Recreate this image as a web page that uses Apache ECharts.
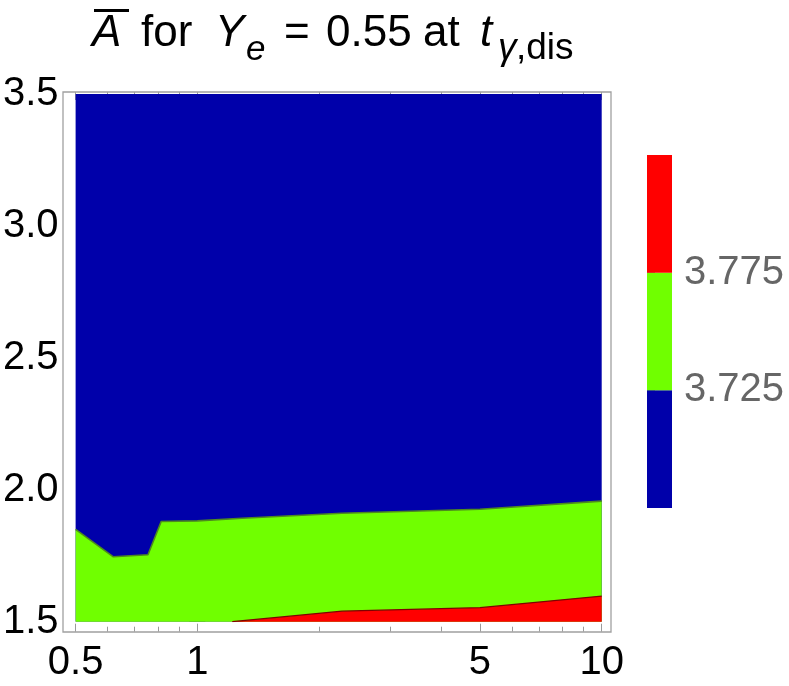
<!DOCTYPE html>
<html><head><meta charset="utf-8">
<script src="https://cdn.jsdelivr.net/npm/echarts@6/dist/echarts.min.js"></script>
<style>html,body{margin:0;padding:0;background:#fff}#c{width:789px;height:686px}</style>
</head><body><div id="c"></div>
<script>
// ---- data ----
const xRange = [0.5, 10];
const yRange = [1.5, 3.5];
const xMajorTicks = [0.5, 1, 5, 10];
const xMinorTicks = [0.6, 0.7, 0.8, 0.9, 2, 3, 4, 6, 7, 8, 9];
// boundary between level < 3.725 (blue) and 3.725..3.775 (green)
const blueGreenX = [0.5, 0.62, 0.755, 0.814, 1.0, 1.29, 2.28, 5.0, 10.0];
const blueGreenY = [1.850, 1.746, 1.754, 1.880, 1.882, 1.892, 1.911, 1.926, 1.957];
// boundary between green and level > 3.775 (red)
const greenRedX = [1.22, 2.28, 5.0, 10.0];
const greenRedY = [1.500, 1.540, 1.553, 1.597];
const contourLevels = [3.725, 3.775];
const colorbarRange = [3.675, 3.825];
// title pieces: [text, style key]
const titlePieces = [
  ['A', 'i'], ['for', 'm'], ['Y', 'i'], ['e', 'si'], ['=', 'm'], ['0.55', 'm'],
  ['at', 'm'], ['t', 'i'], ['γ', 'ti'], [',dis', 'tm']
];

// ---- styles / layout ----
const FONT = "'Liberation Sans', Arial, sans-serif";
const BLUE = '#0000AA', GREEN = '#70FF00', RED = '#FF0000';
const bandColors = [BLUE, GREEN, RED];
const TICK = '#9a9a9a';
const titleX = [92, 141, 215, 246, 284, 326, 423, 480, 498, 516];
const titleStyle = {
  m:  {fontSize: 44, fontStyle: 'normal', base: 49},
  i:  {fontSize: 44, fontStyle: 'italic', base: 49},
  si: {fontSize: 35, fontStyle: 'italic', base: 62},
  ti: {fontSize: 37, fontStyle: 'italic', base: 62},
  tm: {fontSize: 37, fontStyle: 'normal', base: 62}
};

const lx = v => Math.log10(v);
const pairs = (xs, ys) => xs.map((x, i) => [lx(x), ys[i]]);
const fmtX = v => { const r = Math.pow(10, v); return String(Math.round(r * 10) / 10); };

const bounds = [colorbarRange[0], ...contourLevels, colorbarRange[1]];
const bandData = bandColors.map((c, i) => [0, bounds[i], bounds[i + 1], i]);

const titleGraphics = titlePieces.map((p, k) => {
  const st = titleStyle[p[1]];
  return {
    type: 'text', z: 100, silent: true, x: titleX[k], y: st.base - 0.3465 * st.fontSize,
    style: {text: p[0], font: st.fontStyle + ' normal ' + st.fontSize + 'px ' + FONT, fill: '#000', align: 'left', verticalAlign: 'middle'}
  };
});

const chart = echarts.init(document.getElementById('c'), null, {renderer: 'canvas'});

function xAxisDef(pos, offset, ticks, len, labels) {
  return {
    type: 'value', gridIndex: 0, position: pos, offset: offset,
    min: lx(xRange[0]), max: lx(xRange[1]),
    axisLine: {show: false}, splitLine: {show: false},
    axisTick: {show: true, inside: true, length: len, customValues: ticks.map(lx), lineStyle: {color: TICK, width: 1}},
    axisLabel: labels ? {show: true, customValues: xMajorTicks.map(lx), formatter: fmtX, fontSize: 40, fontFamily: FONT, color: '#000', margin: 11} : {show: false}
  };
}
function yAxisDef(pos, labels) {
  return {
    type: 'value', gridIndex: 0, position: pos, offset: 9,
    min: yRange[0], max: yRange[1], interval: 0.5,
    axisLine: {show: false}, splitLine: {show: false},
    axisTick: {show: true, inside: true, length: 8, lineStyle: {color: TICK, width: 1}},
    minorTick: {show: true, splitNumber: 5, length: 5, lineStyle: {color: TICK, width: 1}},
    axisLabel: labels ? {show: true, formatter: v => v.toFixed(1), fontSize: 40, fontFamily: FONT, color: '#000', margin: 8} : {show: false}
  };
}

const option = {
  animation: false,
  backgroundColor: '#fff',
  graphic: [
    {type: 'rect', z: 100, silent: true, shape: {x: 63, y: 92, width: 548, height: 540}, style: {fill: 'none', stroke: '#a0a0a0', lineWidth: 1.3}},
    {type: 'rect', z: 100, silent: true, shape: {x: 94, y: 9, width: 35, height: 3}, style: {fill: '#000'}}
  ].concat(titleGraphics),
  grid: [
    {left: 72.3, top: 94, width: 529.4, height: 527.7},
    {left: 647, top: 155, width: 25, height: 353}
  ],
  xAxis: [
    xAxisDef('bottom', 10, xMajorTicks, 8, true),
    xAxisDef('bottom', 10, xMinorTicks, 5, false),
    xAxisDef('top', 2, xMajorTicks, 8, false),
    xAxisDef('top', 2, xMinorTicks, 5, false),
    {type: 'value', gridIndex: 1, min: 0, max: 1, show: false}
  ],
  yAxis: [
    yAxisDef('left', true),
    yAxisDef('right', false),
    {
      type: 'value', gridIndex: 1, position: 'right', min: colorbarRange[0], max: colorbarRange[1],
      axisLine: {show: false}, splitLine: {show: false},
      axisTick: {show: true, inside: false, length: 8, customValues: contourLevels, lineStyle: {color: TICK, width: 1}},
      axisLabel: {show: true, customValues: contourLevels, formatter: v => v.toFixed(3), fontSize: 40, fontFamily: FONT, color: '#666', margin: 12}
    }
  ],
  series: [
    {
      type: 'line', xAxisIndex: 0, yAxisIndex: 0, symbol: 'none', silent: true,
      data: [[lx(xRange[0]), yRange[1]], [lx(xRange[1]), yRange[1]]],
      lineStyle: {width: 0, opacity: 0}, areaStyle: {color: BLUE, opacity: 1, origin: 'start'}, z: 1
    },
    {
      type: 'line', xAxisIndex: 0, yAxisIndex: 0, symbol: 'none', silent: true,
      data: pairs(blueGreenX, blueGreenY),
      lineStyle: {width: 1.6, color: '#4e8a1e'}, areaStyle: {color: GREEN, opacity: 1, origin: 'start'}, z: 2
    },
    {
      type: 'line', xAxisIndex: 0, yAxisIndex: 0, symbol: 'none', silent: true,
      data: pairs(greenRedX, greenRedY),
      lineStyle: {width: 1.2, color: '#800000'}, areaStyle: {color: RED, opacity: 1, origin: 'start'}, z: 3
    },
    {
      type: 'custom', xAxisIndex: 4, yAxisIndex: 2, silent: true,
      encode: {x: 0, y: [1, 2]},
      data: bandData,
      renderItem: function (params, api) {
        const lo = api.value(1), hi = api.value(2), ci = api.value(3);
        const p0 = api.coord([0, hi]);
        const p1 = api.coord([1, lo]);
        return {type: 'rect', shape: {x: p0[0], y: p0[1], width: p1[0] - p0[0], height: p1[1] - p0[1]}, style: {fill: bandColors[ci]}};
      }
    }
  ]
};
chart.setOption(option);
</script>
</body></html>
